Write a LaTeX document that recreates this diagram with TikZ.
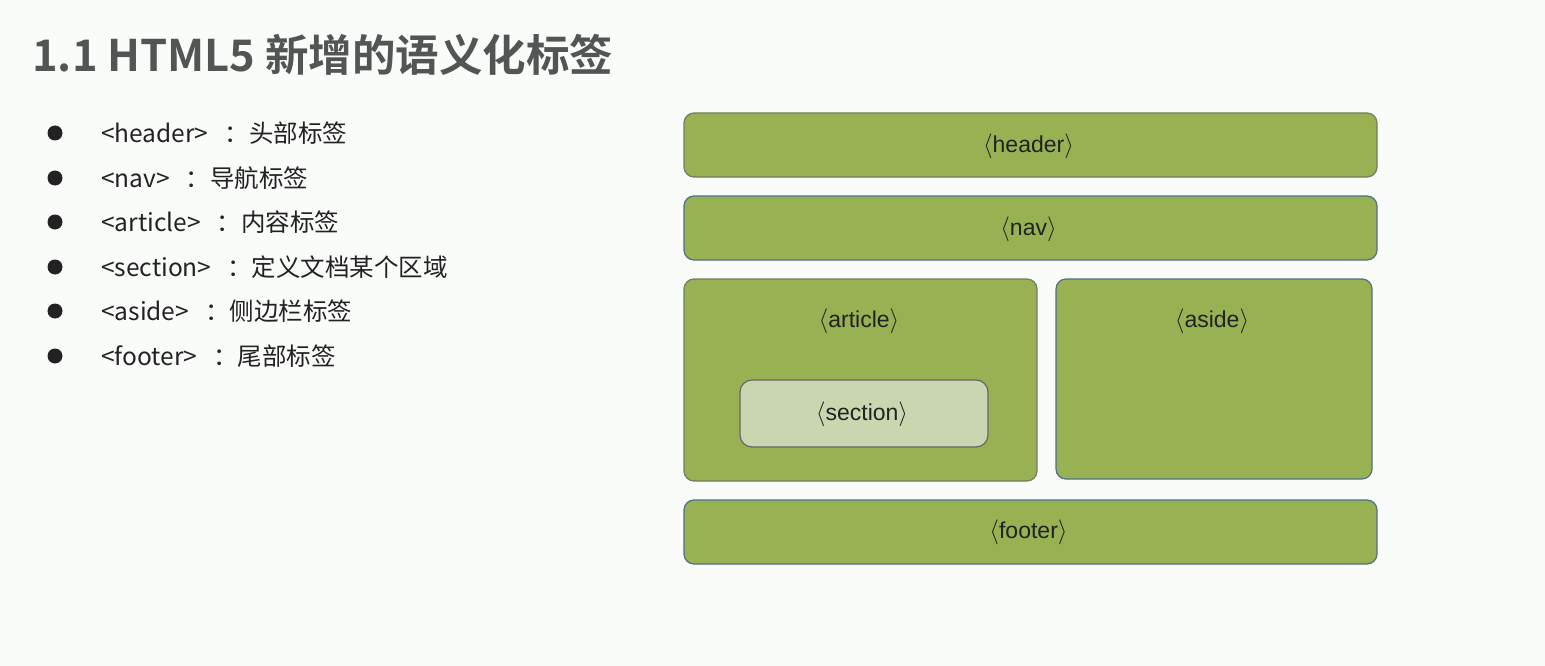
\documentclass[tikz,border=0pt]{standalone}
\usepackage{fontspec}
\setmainfont{Liberation Sans}
\newfontfamily\cjk{Noto Sans CJK SC}
\newfontfamily\cjkbold{Noto Sans CJK SC Bold}
\definecolor{bg}{HTML}{FAFCFA}
\definecolor{boxgreen}{HTML}{97B153}
\definecolor{secfill}{HTML}{CAD6B0}
\definecolor{edgegray}{HTML}{6F7F5F}
\definecolor{edgeblue}{HTML}{4F6F85}
\definecolor{titlegray}{HTML}{525553}
\definecolor{txt}{HTML}{222222}
\tikzset{
  gbox/.style={draw=edgegray, line width=1.2pt, fill=boxgreen, rounded corners=10pt},
  bbox/.style={draw=edgeblue, line width=1.2pt, fill=boxgreen, rounded corners=10pt},
  secbox/.style={draw=gray!80!black, line width=1.2pt, fill=secfill, rounded corners=12pt},
  lab/.style={font=\fontsize{23}{27}\selectfont, text=txt, inner sep=0pt},
  item/.style={font=\cjk\fontsize{24.5}{28}\selectfont, text=txt, anchor=west, inner sep=0pt},
  dot/.style={circle, fill=txt, minimum size=15pt, inner sep=0pt}
}
\newcommand{\tg}[1]{\(\langle\)#1\(\rangle\)}
\newcommand{\cl}{\hspace{16pt}：}
\begin{document}
\begin{tikzpicture}[x=1pt,y=-1pt]
\fill[bg] (0,0) rectangle (1545,666);
\useasboundingbox (0,0) rectangle (1545,666);
% title
\node[anchor=base west, inner sep=0pt, text=titlegray, font=\cjkbold\fontsize{43.5}{48}\selectfont] (title) at (32,72) {1.1 HTML5 新增的语义化标签};
% list
\foreach \y/\t [count=\i] in {133/{<header>\cl 头部标签},178/{<nav>\cl 导航标签},222/{<article>\cl 内容标签},267/{<section>\cl 定义文档某个区域},311/{<aside>\cl 侧边栏标签},356/{<footer>\cl 尾部标签}}{
  \node[dot] (b\i) at (55,\y) {};
  \node[item] (t\i) at (101,\y) {\t};
}
% boxes
\draw[gbox] (684,113) rectangle (1377,177);
\node[lab] (header) at (1028.5,146) {\tg{header}};
\draw[bbox] (684,196) rectangle (1377,260);
\node[lab] (nav) at (1028.5,229) {\tg{nav}};
\draw[gbox] (684,279) rectangle (1037,481);
\node[lab] (article) at (859,321) {\tg{article}};
\draw[secbox] (740,380) rectangle (988,447);
\node[lab] (section) at (862,414) {\tg{section}};
\draw[bbox] (1056,279) rectangle (1372,479);
\node[lab] (aside) at (1212,321) {\tg{aside}};
\draw[bbox] (684,500) rectangle (1377,564);
\node[lab] (footer) at (1028.5,532) {\tg{footer}};
\end{tikzpicture}
\end{document}
